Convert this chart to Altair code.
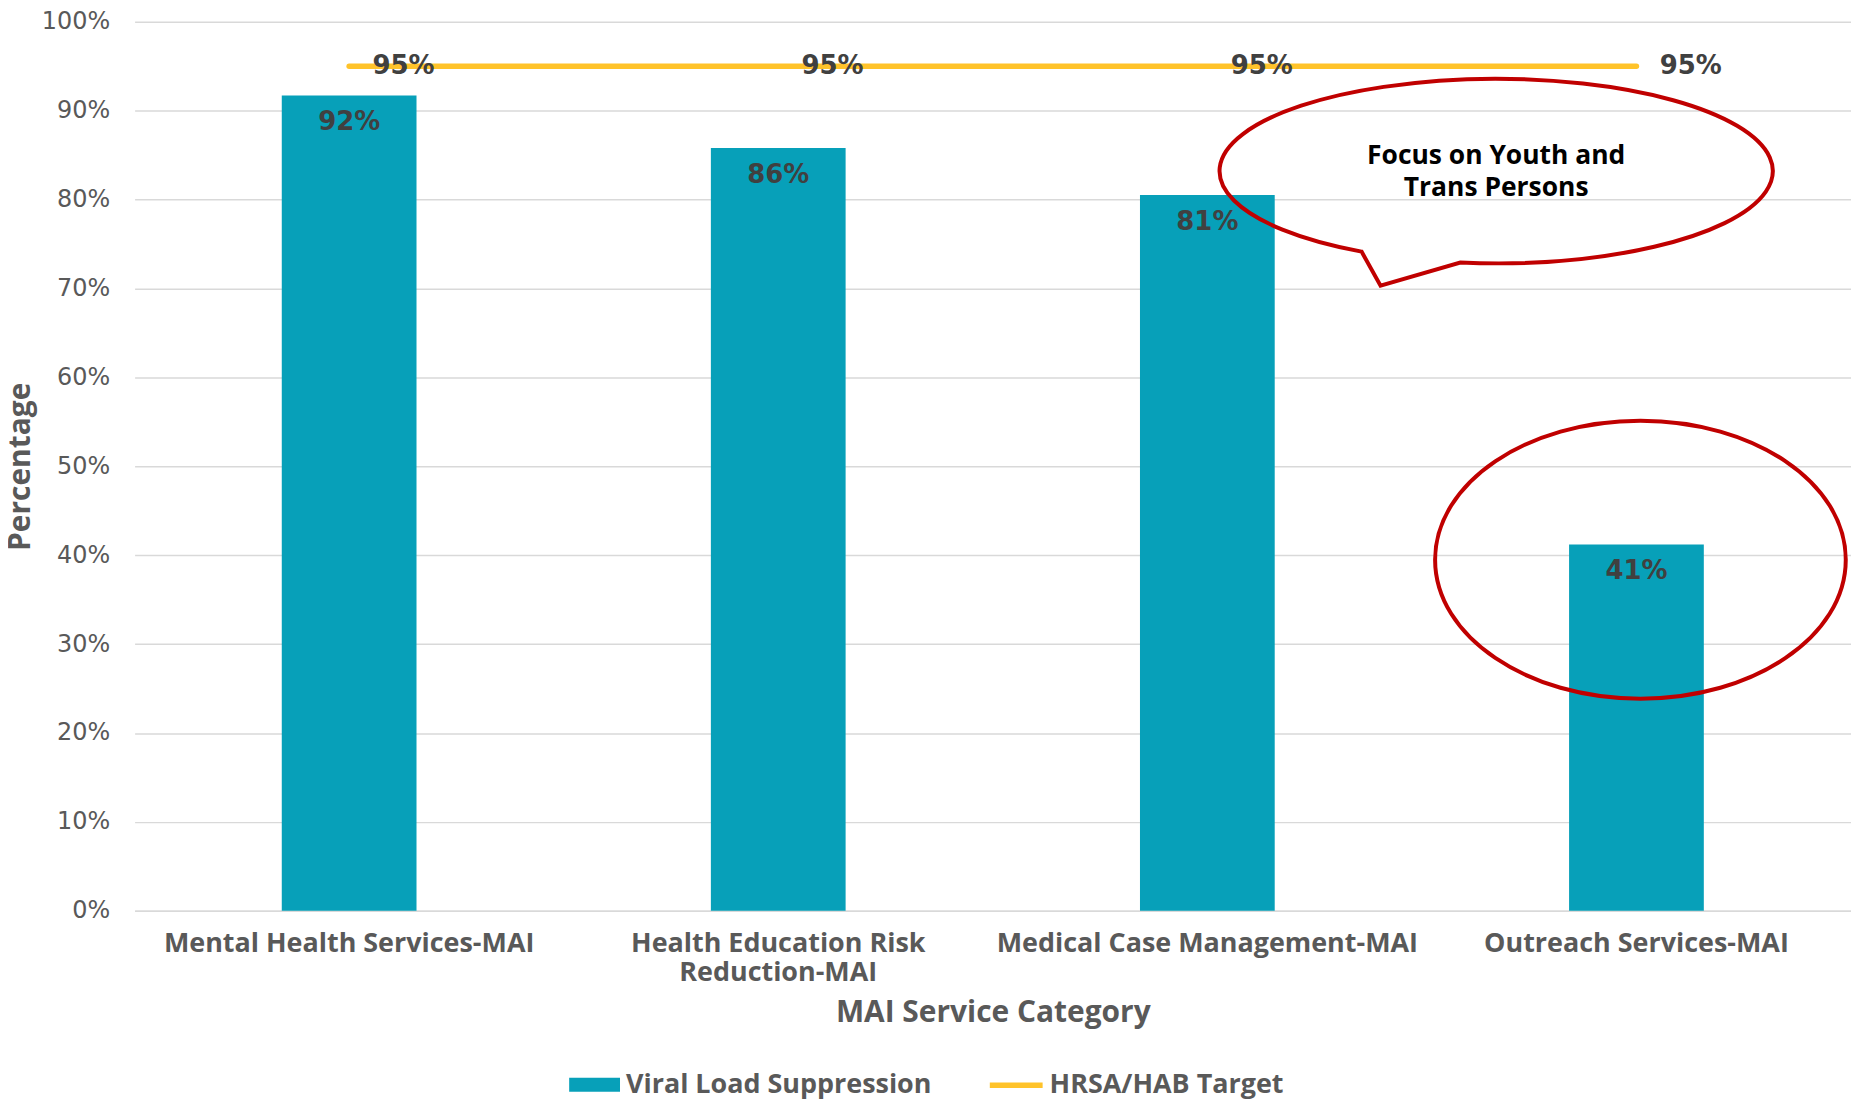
import altair as alt
import pandas as pd

# ---------------- data ----------------
categories = [
    "Mental Health Services-MAI",
    "Health Education Risk Reduction-MAI",
    "Medical Case Management-MAI",
    "Outreach Services-MAI",
]
category_label_lines = [
    ["Mental Health Services-MAI"],
    ["Health Education Risk", "Reduction-MAI"],
    ["Medical Case Management-MAI"],
    ["Outreach Services-MAI"],
]
suppression = [91.7, 85.8, 80.5, 41.2]
target = [95, 95, 95, 95]
y_ticks = [0, 10, 20, 30, 40, 50, 60, 70, 80, 90, 100]
series_names = ["Viral Load Suppression", "HRSA/HAB Target"]

callout_lines = ["Focus on Youth and", "Trans Persons"]
callout_category = ["Outreach Services-MAI"]
callout_value = [83.2]
circle_category = ["Outreach Services-MAI"]
circle_value = [39.5]

# ---------------- styles ----------------
TEAL = "#07A0B9"
GOLD = "#FFC32A"
RED = "#C00000"
GRAY = "#595959"
DARK = "#404040"
GRID = "#D9D9D9"
NUM_FONT = "DejaVu Sans"
TXT_FONT = "Open Sans"

W, H = 1722, 892

bars_df = pd.DataFrame({
    "category": categories,
    "value": suppression,
    "label": [f"{int(v + 0.5)}%" for v in suppression],
    "series": [series_names[0]] * len(categories),
})
target_df = pd.DataFrame({
    "category": categories,
    "value": target,
    "label": [f"{t}%" for t in target],
    "series": [series_names[1]] * len(categories),
})
callout_df = pd.DataFrame({
    "category": callout_category,
    "value": callout_value,
    "text": ["\n".join(callout_lines)],
})
circle_df = pd.DataFrame({"category": circle_category, "value": circle_value})

# multi-line category labels
parts = []
for cat, lines in zip(categories, category_label_lines):
    if len(lines) > 1:
        arr = "[" + ", ".join("'" + l + "'" for l in lines) + "]"
        parts.append(f"datum.label == '{cat}' ? {arr} : ")
label_expr = "".join(parts) + "datum.label"

x_enc = alt.X(
    "category:N",
    sort=categories,
    scale=alt.Scale(domain=categories, paddingInner=0.686, paddingOuter=0.343),
    title="MAI Service Category",
    axis=alt.Axis(
        labelAngle=0,
        ticks=False,
        grid=False,
        domain=True,
        domainColor=GRID,
        domainWidth=1.5,
        labelFont=TXT_FONT,
        labelFontWeight="bold",
        labelFontSize=27,
        labelColor=GRAY,
        labelPadding=20,
        labelBaseline="top",
        labelLineHeight=28.5,
        labelLimit=0,
        labelExpr=label_expr,
        titleFont=TXT_FONT,
        titleFontWeight="bold",
        titleFontSize=30,
        titleColor=GRAY,
        titleX=W / 2,
        titleY=102,
        titleAlign="center",
        titleBaseline="middle",
    ),
)
y_enc = alt.Y(
    "value:Q",
    scale=alt.Scale(domain=[0, 100], nice=False),
    title="Percentage",
    axis=alt.Axis(
        values=y_ticks,
        labelExpr="datum.value + '%'",
        ticks=False,
        domain=False,
        grid=True,
        gridColor=GRID,
        gridWidth=1.5,
        labelFont=NUM_FONT,
        labelFontSize=24,
        labelColor=GRAY,
        labelPadding=25,
        titleFont=TXT_FONT,
        titleFontWeight="bold",
        titleFontSize=30,
        titleColor=GRAY,
        titleAngle=270,
        titleX=-114,
        titleY=H / 2,
        titleAlign="center",
        titleBaseline="middle",
    ),
)

bars = alt.Chart(bars_df).mark_bar(opacity=1).encode(
    x=x_enc,
    y=y_enc,
    color=alt.Color(
        "series:N",
        scale=alt.Scale(domain=[series_names[0]], range=[TEAL]),
        legend=alt.Legend(
            title=None,
            orient="none",
            legendX=436,
            legendY=1041,
            padding=0,
            symbolType="M-1,-0.275H1V0.275H-1Z",
            symbolSize=2601,
            symbolStrokeWidth=0,
            symbolOpacity=1,
            labelFont=TXT_FONT,
            labelFontWeight="bold",
            labelFontSize=27,
            labelColor=GRAY,
            labelOffset=6,
            labelLimit=0,
        ),
    ),
)

line = alt.Chart(target_df).mark_line(strokeWidth=5.5, strokeCap="round").encode(
    x=x_enc,
    y=y_enc,
    stroke=alt.Stroke(
        "series:N",
        scale=alt.Scale(domain=[series_names[1]], range=[GOLD]),
        legend=alt.Legend(
            title=None,
            orient="none",
            legendX=855,
            legendY=1037.5,
            padding=0,
            symbolType="stroke",
            symbolSize=2809,
            symbolStrokeWidth=5.5,
            labelFont=TXT_FONT,
            labelFontWeight="bold",
            labelFontSize=27,
            labelColor=GRAY,
            labelOffset=4,
            labelLimit=0,
        ),
    ),
)

bar_labels = alt.Chart(bars_df).mark_text(
    font=NUM_FONT, fontWeight="bold", fontSize=26, color=DARK,
    align="center", baseline="middle", dy=27,
).encode(x=x_enc, y=y_enc, text="label:N")

target_labels = alt.Chart(target_df).mark_text(
    font=NUM_FONT, fontWeight="bold", fontSize=26, color=DARK,
    align="center", baseline="middle", dx=54.5,
).encode(x=x_enc, y=y_enc, text="label:N")

bubble_path = "M -0.9937 0.2912 A 1 0.3333 0 1 1 -0.6369 0.3305 L -0.9252 0.4144 Z"
bubble = alt.Chart(callout_df).mark_point(
    shape=bubble_path, size=555 ** 2, filled=False, stroke=RED,
    strokeWidth=4, opacity=1, strokeJoin="miter",
).encode(x=x_enc, y=y_enc)

bubble_text = alt.Chart(callout_df).mark_text(
    font=TXT_FONT, fontWeight="bold", fontSize=26.5, color="black",
    align="center", baseline="middle", lineBreak="\n", lineHeight=32,
    dx=-140.75, dy=-15,
).encode(x=x_enc, y=y_enc, text="text:N")

circle_path = "M -0.9806 0 A 1 0.677 0 1 1 1.0194 0 A 1 0.677 0 1 1 -0.9806 0 Z"
circle = alt.Chart(circle_df).mark_point(
    shape=circle_path, size=412 ** 2, filled=False, stroke=RED,
    strokeWidth=4, opacity=1,
).encode(x=x_enc, y=y_enc)

chart = alt.layer(
    bars, line, bar_labels, target_labels, bubble, bubble_text, circle
).resolve_scale(color="independent", stroke="independent").properties(
    width=W,
    height=H,
    autosize=alt.AutoSizeParams(type="none"),
    padding={"left": 127, "top": 12, "right": 0, "bottom": 189},
    background="white",
).configure_view(stroke=None)

chart.save("out.html", embed_options={"renderer": "svg", "actions": False})
